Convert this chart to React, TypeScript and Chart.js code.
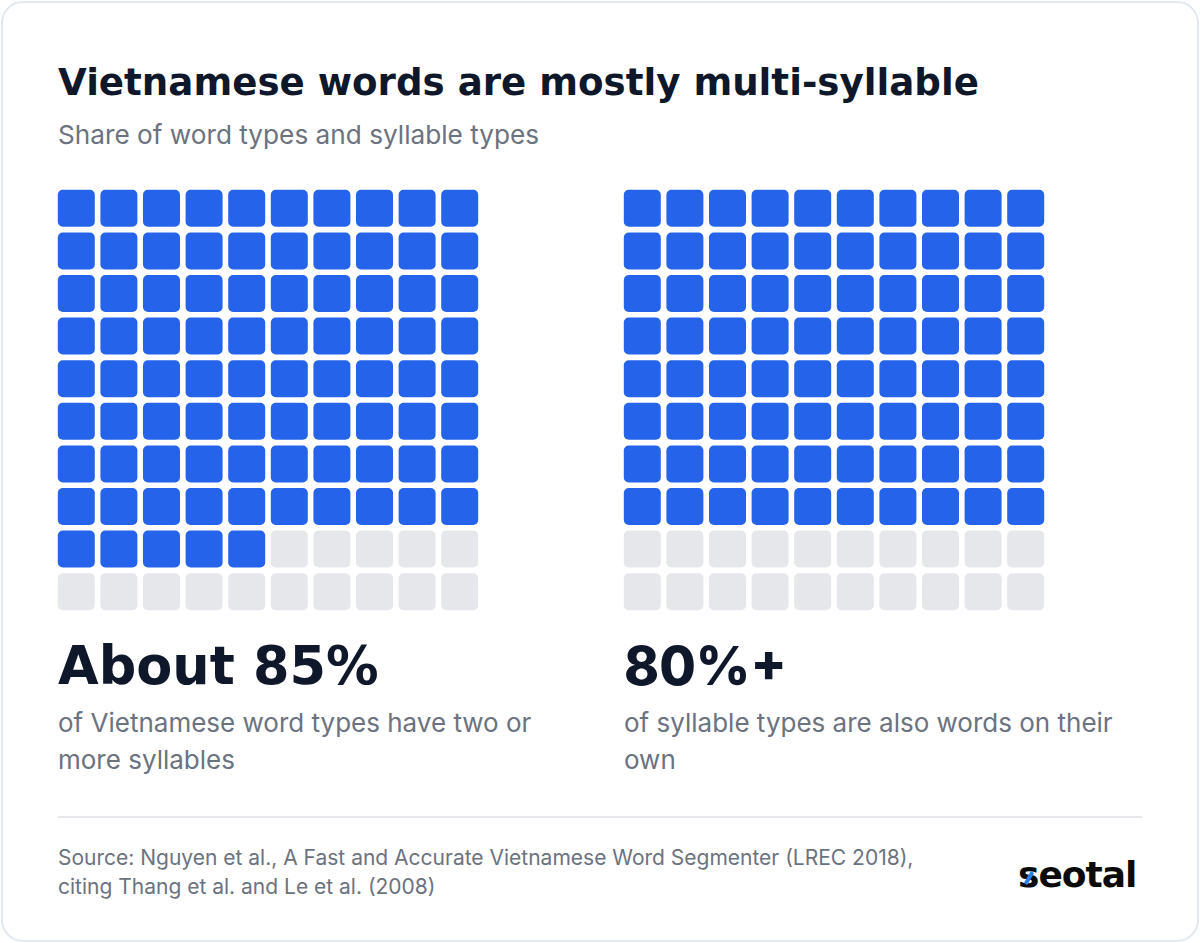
import React, { useEffect, useRef } from "react";
import { Chart, registerables } from "chart.js";

Chart.register(...registerables);

// ---- data ----
const COLUMNS = ["1", "2", "3", "4", "5", "6", "7", "8", "9", "10"];
const ROWS = ["1", "2", "3", "4", "5", "6", "7", "8", "9", "10"];
const SHARE_VALUES = [85, 80];
const STAT_LABELS = ["About 85%", "80%+"];
const DESCRIPTIONS = [
  "of Vietnamese word types have two or more syllables",
  "of syllable types are also words on their own",
];
const TITLE = "Vietnamese words are mostly multi-syllable";
const SUBTITLE = "Share of word types and syllable types";
const SOURCE_LINES = [
  "Source: Nguyen et al., A Fast and Accurate Vietnamese Word Segmenter (LREC 2018),",
  "citing Thang et al. and Le et al. (2008)",
];

// ---- style ----
const BLUE = "#2563EB";
const GRAY = "#E5E7EB";
const DARK = "#0F172A";
const MUTED = "#6B7280";
const HEAD_FONT = "'DejaVu Sans', sans-serif";
const BODY_FONT = "Inter, 'Noto Sans', sans-serif";
const CELL_INSET = 0.066;
const CANVAS_SIZE = 426;

function Waffle({ filled, left, top }: { filled: number; left: number; top: number }) {
  const ref = useRef<HTMLCanvasElement | null>(null);
  useEffect(() => {
    if (!ref.current) return;
    const datasets = ROWS.map((_, r) => ({
      label: "row " + ROWS[r],
      data: COLUMNS.map(() => [r + CELL_INSET, r + 1 - CELL_INSET]),
      backgroundColor: COLUMNS.map((_, c) => (r * COLUMNS.length + c < filled ? BLUE : GRAY)),
      borderRadius: 5,
      borderSkipped: false,
      borderWidth: 0,
      grouped: false,
      barPercentage: 1,
      categoryPercentage: 0.8685,
    }));
    const chart = new Chart(ref.current, {
      type: "bar",
      data: { labels: COLUMNS, datasets: datasets as any },
      options: {
        animation: false,
        responsive: false,
        events: [],
        layout: { padding: 0 },
        plugins: { legend: { display: false }, tooltip: { enabled: false } },
        scales: {
          x: { display: false },
          y: { display: false, min: 0, max: ROWS.length, reverse: true },
        },
      },
    });
    return () => chart.destroy();
  }, [filled]);
  return (
    <canvas
      ref={ref}
      width={CANVAS_SIZE}
      height={CANVAS_SIZE}
      style={{ position: "absolute", left, top, width: CANVAS_SIZE, height: CANVAS_SIZE }}
    />
  );
}

export default function App() {
  useEffect(() => {
    document.body.style.margin = "0";
    document.body.style.background = "#ffffff";
  }, []);
  const panelX = [58, 624];
  const statFonts = [HEAD_FONT, BODY_FONT];
  return (
    <div style={{ position: "relative", width: 1200, height: 943, background: "#fff", overflow: "hidden" }}>
      <div
        style={{
          position: "absolute",
          left: 1,
          top: 1,
          width: 1198,
          height: 941,
          boxSizing: "border-box",
          border: "2px solid #E2E8F0",
          borderRadius: 22,
        }}
      />
      <div
        style={{
          position: "absolute",
          left: 58,
          top: 57,
          fontFamily: HEAD_FONT,
          fontWeight: 700,
          fontSize: 37.2,
          lineHeight: "50px",
          color: DARK,
          whiteSpace: "nowrap",
        }}
      >
        {TITLE}
      </div>
      <div
        style={{
          position: "absolute",
          left: 58,
          top: 117,
          fontFamily: BODY_FONT,
          fontSize: 26.2,
          lineHeight: "36px",
          color: MUTED,
          whiteSpace: "nowrap",
        }}
      >
        {SUBTITLE}
      </div>
      {SHARE_VALUES.map((v, i) => (
        <Waffle key={i} filled={v} left={panelX[i] - 3} top={187} />
      ))}
      {STAT_LABELS.map((s, i) => (
        <div
          key={"s" + i}
          style={{
            position: "absolute",
            left: panelX[i],
            top: 633,
            fontFamily: statFonts[i],
            fontWeight: 800,
            fontSize: i === 0 ? 52.5 : 53,
            lineHeight: "66px",
            color: DARK,
            whiteSpace: "nowrap",
          }}
        >
          {s}
        </div>
      ))}
      {DESCRIPTIONS.map((d, i) => (
        <div
          key={"d" + i}
          style={{
            position: "absolute",
            left: panelX[i],
            top: 704,
            width: 520,
            fontFamily: BODY_FONT,
            fontSize: 26,
            lineHeight: "37px",
            color: MUTED,
          }}
        >
          {d}
        </div>
      ))}
      <div style={{ position: "absolute", left: 58, top: 816, width: 1084, height: 2, background: "#E5E7EB" }} />
      <div
        style={{
          position: "absolute",
          left: 58,
          top: 843,
          fontFamily: BODY_FONT,
          fontSize: 21,
          lineHeight: "29px",
          color: MUTED,
          whiteSpace: "nowrap",
        }}
      >
        {SOURCE_LINES.map((l, i) => (
          <div key={i}>{l}</div>
        ))}
      </div>
      <div
        style={{
          position: "absolute",
          left: 1018,
          top: 852,
          fontFamily: HEAD_FONT,
          fontWeight: 700,
          fontSize: 36,
          lineHeight: "46px",
          color: "#0B0B0B",
          whiteSpace: "nowrap",
          letterSpacing: -1,
        }}
      >
        seotal
        <span
          style={{
            position: "absolute",
            left: 9,
            top: 19,
            width: 4,
            height: 14,
            background: "#2F80ED",
            transform: "rotate(30deg)",
            borderRadius: 1,
          }}
        />
      </div>
    </div>
  );
}
